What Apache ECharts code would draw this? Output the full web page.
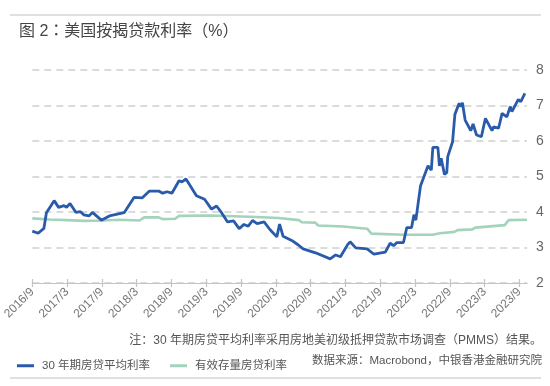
<!DOCTYPE html>
<html><head><meta charset="utf-8">
<script src="https://cdn.jsdelivr.net/npm/echarts@6/dist/echarts.min.js"></script>
<style>html,body{margin:0;padding:0;background:#fff}#c{width:550px;height:386px}</style>
</head><body><div id="c"></div>
<script>
const titleText = '图 2：美国按揭贷款利率（%）';
const noteText = '注：30 年期房贷平均利率采用房地美初级抵押贷款市场调查（PMMS）结果。';
const sourceText = '数据来源：Macrobond，中银香港金融研究院';
const seriesNames = ['30 年期房贷平均利率', '有效存量房贷利率'];
const yTicks = [2, 3, 4, 5, 6, 7, 8];

const mortgageDates = ['2016-09-01','2016-10-01','2016-11-01','2016-11-14','2016-12-24','2017-01-17','2017-02-15','2017-02-28','2017-03-16','2017-04-16','2017-05-10','2017-05-27','2017-06-25','2017-07-12','2017-08-28','2017-10-10','2017-12-26','2018-02-17','2018-03-30','2018-05-07','2018-06-25','2018-07-15','2018-08-08','2018-09-03','2018-10-10','2018-10-25','2018-11-16','2019-01-10','2019-02-22','2019-03-28','2019-04-24','2019-05-20','2019-06-21','2019-07-22','2019-08-21','2019-09-16','2019-10-08','2019-10-30','2019-11-24','2019-12-30','2020-01-31','2020-03-06','2020-03-20','2020-04-08','2020-05-23','2020-06-27','2020-07-22','2020-09-26','2020-12-12','2021-01-10','2021-02-05','2021-03-12','2021-03-25','2021-04-24','2021-06-23','2021-07-28','2021-09-27','2021-10-22','2021-11-10','2021-11-27','2022-01-01','2022-01-18','2022-02-13','2022-02-25','2022-03-05','2022-03-29','2022-05-08','2022-05-25','2022-06-03','2022-06-29','2022-07-07','2022-07-16','2022-08-03','2022-08-15','2022-08-20','2022-09-15','2022-09-27','2022-10-19','2022-10-28','2022-11-06','2022-11-20','2022-12-19','2022-12-31','2023-01-19','2023-02-14','2023-03-05','2023-04-09','2023-04-17','2023-05-13','2023-05-31','2023-06-26','2023-07-13','2023-07-22','2023-08-25','2023-09-08','2023-09-29'];
const mortgageValues = [3.46,3.40,3.54,3.98,4.32,4.13,4.18,4.13,4.24,3.99,4.01,3.92,3.89,3.99,3.77,3.89,3.98,4.41,4.40,4.59,4.59,4.53,4.57,4.53,4.88,4.85,4.93,4.46,4.36,4.08,4.17,3.98,3.72,3.75,3.53,3.65,3.60,3.76,3.67,3.72,3.50,3.30,3.66,3.32,3.20,3.07,2.96,2.85,2.68,2.79,2.74,3.08,3.16,2.99,2.96,2.81,2.87,3.12,3.05,3.14,3.14,3.56,3.56,3.92,3.77,4.73,5.30,5.18,5.82,5.82,5.30,5.51,5.06,5.11,5.56,5.98,6.75,7.06,6.97,7.08,6.59,6.29,6.48,6.17,6.12,6.64,6.29,6.40,6.36,6.78,6.68,6.97,6.83,7.17,7.11,7.34];

const effectiveDates = ['2016-09-01','2016-12-01','2017-03-01','2017-06-01','2017-09-01','2017-12-01','2018-03-15','2018-04-10','2018-06-25','2018-07-15','2018-09-20','2018-10-10','2019-03-28','2019-11-20','2020-03-15','2020-07-01','2020-07-15','2020-09-25','2020-10-10','2021-02-20','2021-06-23','2021-07-15','2022-01-01','2022-06-01','2022-07-10','2022-09-25','2022-10-10','2022-12-28','2023-01-12','2023-06-15','2023-07-05','2023-10-10'];
const effectiveValues = [3.82,3.79,3.77,3.75,3.76,3.78,3.76,3.85,3.85,3.80,3.81,3.89,3.90,3.86,3.83,3.77,3.71,3.70,3.62,3.59,3.53,3.39,3.36,3.36,3.40,3.44,3.49,3.51,3.56,3.63,3.77,3.78];

const xTickMonths = [0, 6, 12, 18, 24, 30, 36, 42, 48, 54, 60, 66, 72, 78, 84];
const xMaxMonth = 85.3;

function monthIndex(s) {
  const p = s.split('-').map(Number);
  return (p[0] - 2016) * 12 + (p[1] - 9) + (p[2] - 1) / 30;
}
function monthLabel(m) {
  const k = Math.round(m) + 8;
  return (2016 + Math.floor(k / 12)) + '/' + (k % 12 + 1);
}
const pair = (ds, vs) => ds.map((d, i) => [monthIndex(d), vs[i]]);

const FONT = '"Liberation Sans", "Noto Sans CJK SC", sans-serif';
const TFONT = '"Liberation Sans", "Noto Sans CJK TC", sans-serif';
const BLUE = '#2a5bab';
const GREEN = '#a3d3bb';

const chart = echarts.init(document.getElementById('c'));
chart.setOption({
  animation: false,
  textStyle: { fontFamily: FONT },
  grid: { left: 25, right: 23, top: 70, bottom: 103 },
  xAxis: [{
    type: 'value', min: 0, max: xMaxMonth, interval: 6,
    axisLine: { lineStyle: { color: '#c4c4c4', width: 1.2 } },
    axisTick: { show: true, length: 4, customValues: xTickMonths, lineStyle: { color: '#c4c4c4', width: 1.2 } },
    axisLabel: { customValues: xTickMonths, rotate: 45, fontSize: 12, color: '#777', margin: 7, formatter: v => monthLabel(v) },
    splitLine: { show: false }
  }, {
    type: 'value', min: 0, max: xMaxMonth, position: 'bottom',
    axisLine: { show: false },
    axisTick: { show: true, inside: true, length: 4, customValues: xTickMonths, lineStyle: { color: '#c4c4c4', width: 1.2 } },
    axisLabel: { show: false },
    splitLine: { show: false }
  }],
  yAxis: {
    type: 'value', position: 'right', min: yTicks[0], max: yTicks[yTicks.length - 1], interval: 1,
    axisLine: { show: false }, axisTick: { show: false },
    axisLabel: { fontSize: 14, color: '#666', margin: 9 },
    splitLine: { lineStyle: { color: '#cfcfcf', width: 1.5, type: [7, 5] } }
  },
  legend: {
    left: 12, top: 355, itemWidth: 17, itemHeight: 3, itemGap: 20, icon: 'rect',
    textStyle: { fontSize: 11.5, color: '#555', padding: [0, 0, 0, 3] },
    data: seriesNames
  },
  graphic: [
    { type: 'line', shape: { x1: 10, y1: 15, x2: 541, y2: 15 }, style: { stroke: '#d6d6d6', lineWidth: 1.5 } },
    { type: 'text', left: 19, top: 24, style: { text: titleText, font: '16px ' + TFONT, fill: '#444' } },
    { type: 'text', right: 8, top: 335, style: { text: noteText, font: '12px ' + FONT, fill: '#555' } },
    { type: 'text', right: 8, top: 355, style: { text: sourceText, font: '11.5px ' + FONT, fill: '#555' } },
    { type: 'line', shape: { x1: 10, y1: 378, x2: 541, y2: 378 }, style: { stroke: '#d6d6d6', lineWidth: 1.5 } }
  ],
  series: [{
    name: seriesNames[1], type: 'line', xAxisIndex: 0, showSymbol: false, symbol: 'none',
    data: pair(effectiveDates, effectiveValues),
    lineStyle: { color: GREEN, width: 2.6 }, itemStyle: { color: GREEN }
  }, {
    name: seriesNames[0], type: 'line', xAxisIndex: 0, showSymbol: false, symbol: 'none',
    data: pair(mortgageDates, mortgageValues),
    lineStyle: { color: BLUE, width: 2.8 }, itemStyle: { color: BLUE }
  }]
});
</script></body></html>
